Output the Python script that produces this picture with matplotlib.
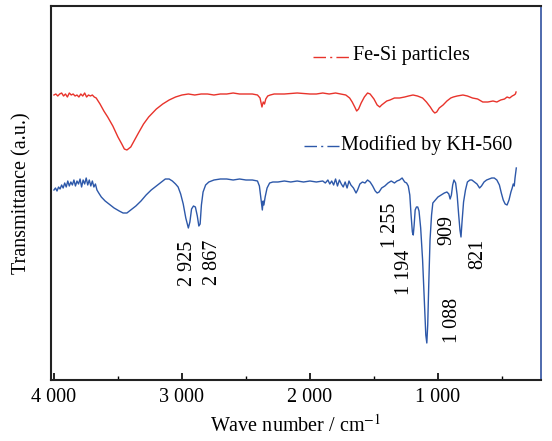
import matplotlib
matplotlib.use('Agg')
import matplotlib.pyplot as plt
from matplotlib.ticker import MultipleLocator

plt.rcParams['font.family'] = ['Liberation Serif', 'DejaVu Serif']
plt.rcParams['mathtext.fontset'] = 'stix'

# Fe-Si particles (red)
fesi_wn = [4000, 3985, 3970, 3955, 3940, 3925, 3910, 3895, 3880, 3865, 3850, 3835,
           3820, 3805, 3790, 3775, 3760, 3745, 3730, 3715, 3700, 3685, 3670,
           3640, 3610, 3580, 3540, 3500, 3470, 3450, 3430, 3400, 3370, 3340, 3300,
           3260, 3200, 3150, 3100, 3050, 3000, 2950, 2900, 2850, 2800, 2750, 2700,
           2650, 2600, 2550, 2500, 2450, 2410, 2390, 2375, 2365, 2355, 2345, 2330,
           2310, 2280, 2200, 2100, 2000, 1950, 1900, 1850, 1800, 1760, 1720, 1690,
           1670, 1650, 1635, 1620, 1600, 1575, 1550, 1530, 1500, 1475, 1455, 1440,
           1420, 1400, 1375, 1340, 1300, 1260, 1230, 1195, 1160, 1120, 1090, 1060,
           1040, 1025, 1010, 990, 960, 930, 900, 880, 850, 805, 770, 730, 690, 650,
           610, 570, 540, 510, 480, 460, 440, 420, 405, 395, 390]
fesi_t = [305, 306, 304, 306, 307, 304, 306, 303, 307, 305, 306, 304,
          305, 303, 306, 304, 307, 303, 305, 304, 305, 303, 302,
          296, 289, 283, 274, 263, 256, 251, 250, 253, 260, 267, 276,
          283, 291, 296, 300, 303, 305, 306, 305, 306, 306, 305, 306,
          306, 307, 306, 306, 306, 305, 302, 293, 298, 296, 301, 304,
          305, 306, 306, 307, 306, 306, 307, 306, 307, 306, 305, 302,
          298, 293, 289, 291, 297, 303, 307, 306, 301, 295, 293, 295,
          297, 299, 300, 302, 302, 303, 304, 305, 304, 302, 298, 293,
          289, 287, 288, 292, 295, 299, 302, 303, 304, 305, 304, 302, 301, 298,
          298, 299, 298, 300, 301, 303, 302, 304, 305, 306, 308]

# Modified by KH-560 (blue)
kh_wn = [4000, 3988, 3976, 3964, 3952, 3940, 3928, 3916, 3904, 3892, 3880, 3868,
         3856, 3844, 3832, 3820, 3808, 3796, 3784, 3772, 3760, 3748, 3736, 3724,
         3712, 3700, 3688, 3676, 3664, 3650, 3630, 3600, 3570, 3530, 3490, 3460,
         3430, 3400, 3360, 3320, 3280, 3240, 3200, 3160, 3130, 3100, 3075, 3050,
         3030, 3010, 2990, 2970, 2950, 2938, 2925, 2910, 2895, 2880, 2868, 2858,
         2848, 2835, 2815, 2790, 2750, 2700, 2650, 2600, 2550, 2500, 2450, 2410,
         2395, 2382, 2372, 2366, 2360, 2350, 2335, 2315, 2290, 2250, 2200, 2150,
         2100, 2050, 2000, 1950, 1900, 1880, 1860, 1845, 1830, 1815, 1800, 1785,
         1770, 1755, 1740, 1725, 1710, 1695, 1680, 1660, 1640, 1628, 1610, 1590,
         1570, 1550, 1530, 1510, 1490, 1475, 1460, 1440, 1415, 1390, 1365, 1340,
         1320, 1300, 1280, 1260, 1245, 1232, 1220, 1210, 1200, 1193, 1186, 1178,
         1168, 1158, 1148, 1135, 1120, 1105, 1095, 1087, 1080, 1072, 1062, 1050,
         1040, 1020, 1000, 975, 950, 930, 915, 905, 895, 885, 875, 862,
         850, 838, 828, 820, 812, 800, 785, 770, 750, 735, 715, 695,
         675, 660, 640, 620, 600, 580, 560, 540, 520, 505, 490, 475,
         460, 445, 430, 420, 412, 404, 398, 392, 388]
kh_t = [210, 212, 209, 213, 211, 215, 212, 217, 213, 219, 214, 218,
        215, 220, 214, 219, 216, 221, 213, 220, 216, 222, 215, 220,
        214, 219, 213, 216, 210, 207, 203, 199, 196, 192, 189, 187,
        187, 190, 194, 199, 205, 210, 214, 218, 221, 221, 219, 216,
        213, 206, 196, 182, 172, 178, 191, 194, 193, 184, 174, 176,
        195, 208, 215, 218, 220, 221, 221, 220, 221, 220, 220, 219,
        214, 200, 190, 199, 195, 203, 212, 217, 218, 218, 219, 218,
        219, 218, 219, 218, 219, 217, 220, 216, 219, 215, 221, 214,
        220, 216, 213, 218, 212, 219, 215, 212, 207, 210, 216, 218,
        217, 220, 218, 214, 209, 207, 208, 212, 214, 217, 219, 217,
        219, 220, 222, 218, 217, 214, 205, 185, 168, 165, 175, 190,
        193, 193, 189, 172, 140, 95, 65, 57, 75, 115, 160, 185,
        197, 200, 203, 205, 207, 208, 206, 201, 205, 215, 220, 217,
        205, 185, 170, 163, 178, 198, 210, 218, 220, 220, 218, 216,
        212, 214, 218, 220, 221, 222, 222, 220, 215, 207, 200, 196,
        195, 200, 208, 212, 216, 214, 222, 228, 232]

fesi_label = 'Fe-Si particles'
kh_label = 'Modified by KH-560'

peak_labels = ['2 925', '2 867', '1 255', '1 194', '1 088', '909', '821']
peak_x = [2953, 2765, 1367, 1265, 890, 929, 687]
peak_y = [137, 138, 175, 128, 80, 170, 146]

xtick_vals = [4000, 3000, 2000, 1000]
xtick_text = ['4 000', '3 000', '2 000', '1 000']

red = '#e8332b'
blue = '#2d58a9'

fig = plt.figure(figsize=(5.52, 4.41), dpi=100)
ax = fig.add_axes([51 / 552, 1 - 380 / 441, 490 / 552, 374 / 441])

ax.plot(fesi_wn, fesi_t, color=red, lw=1.0)
ax.plot(kh_wn, kh_t, color=blue, lw=1.0)

ax.set_xlim(4023, 195)
ax.set_ylim(20, 394)

for lab, x, y in zip(peak_labels, peak_x, peak_y):
    ax.text(x, y, lab, rotation=90, ha='center', va='center', fontsize=14.5)

# legend-style labels
dashdot = (0, (9, 3, 1.5, 3))
ax.plot([0.535, 0.612], [0.864, 0.864], transform=ax.transAxes, color=red,
        lw=1.0, ls=dashdot)
ax.text(0.616, 0.868, fesi_label, transform=ax.transAxes, ha='left',
        va='center', fontsize=14.5)
ax.plot([0.516, 0.588], [0.626, 0.626], transform=ax.transAxes, color=blue,
        lw=1.0, ls=dashdot)
ax.text(0.592, 0.628, kh_label, transform=ax.transAxes, ha='left',
        va='center', fontsize=14.5)

ax.set_xticks(xtick_vals)
ax.set_xticklabels(xtick_text, fontsize=14.5)
ax.xaxis.set_minor_locator(MultipleLocator(500))
ax.tick_params(axis='x', which='major', direction='in', length=5, width=1.2, pad=6)
ax.tick_params(axis='x', which='minor', direction='in', length=3, width=1.0)
ax.set_yticks([])

for s in ['left', 'top', 'bottom']:
    ax.spines[s].set_linewidth(1.5)
    ax.spines[s].set_color('#222222')
ax.spines['right'].set_linewidth(1.2)
ax.spines['right'].set_color('#3050a0')

ax.set_xlabel('Wave number / cm$^{-1}$', fontsize=14.5, labelpad=5)
ax.set_ylabel('Transmittance (a.u.)', fontsize=14.5, labelpad=14)

fig.savefig('out.png', dpi=100)
plt.close(fig)
